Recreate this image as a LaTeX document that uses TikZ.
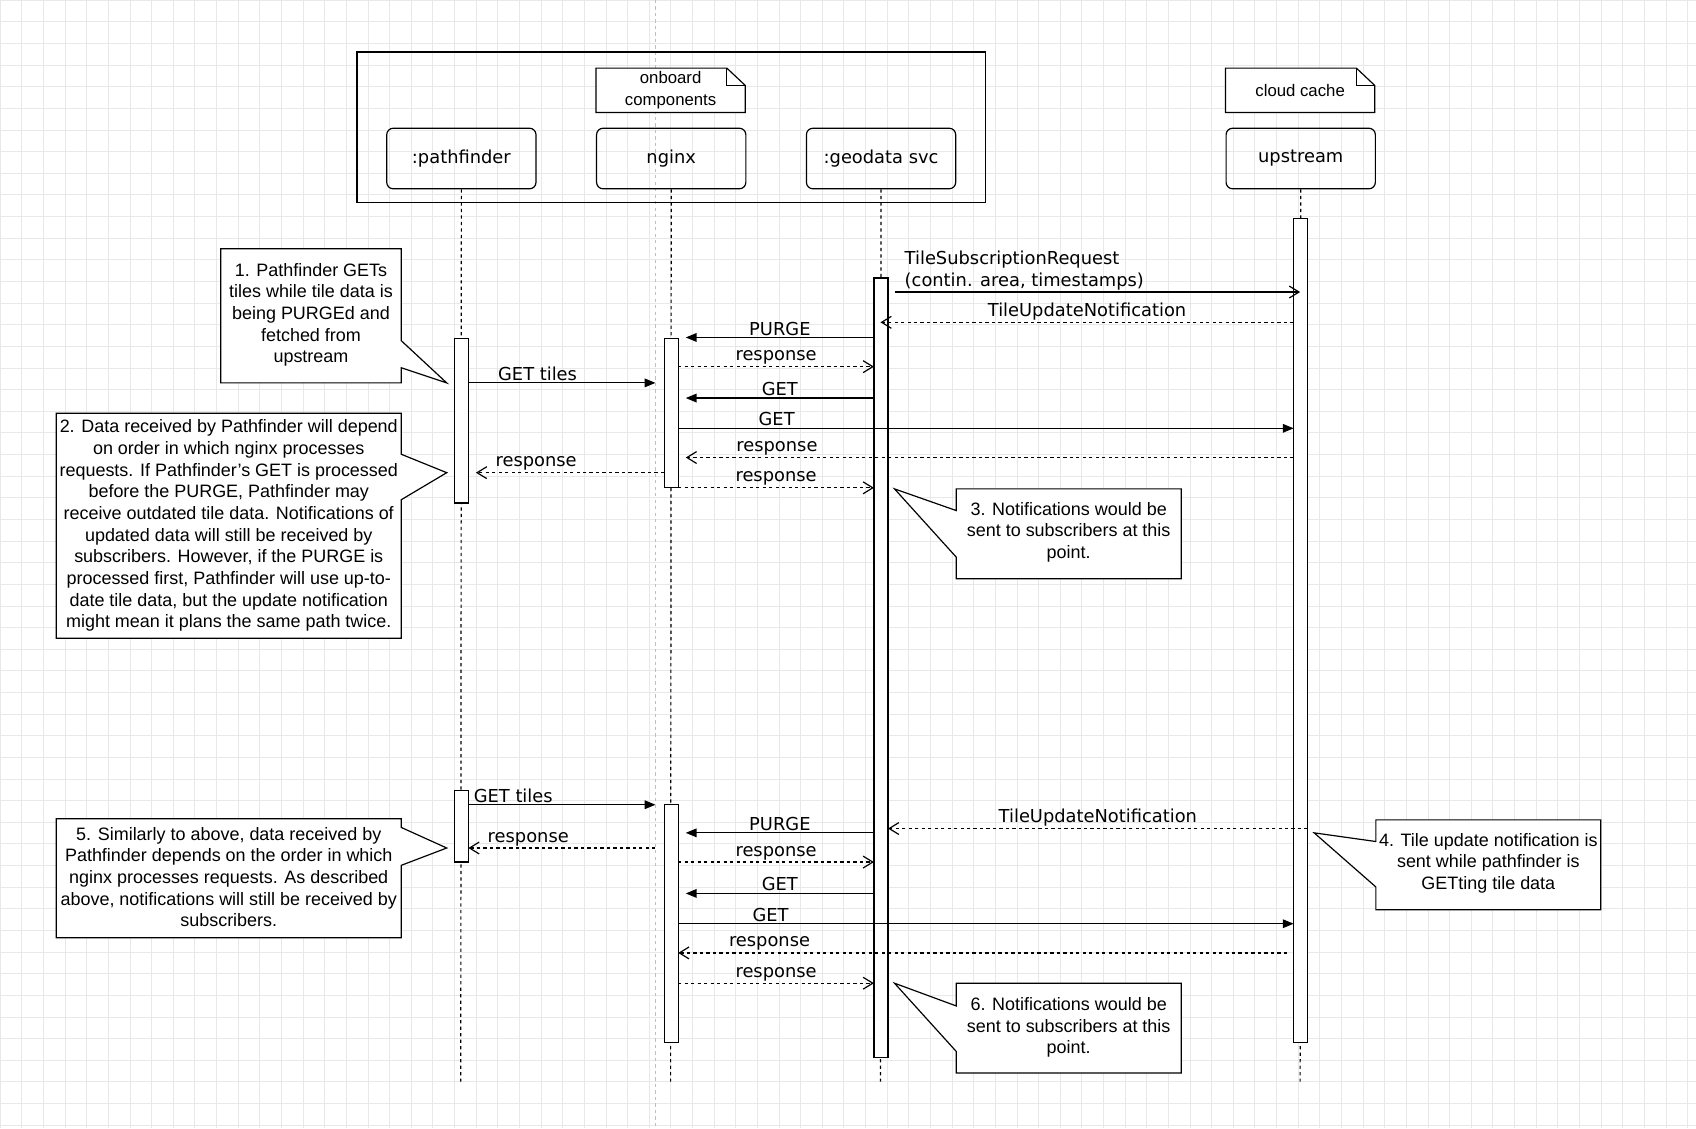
\documentclass[tikz,border=0pt]{standalone}
\usepackage{fontspec}
\setmainfont{Liberation Sans}
\newfontfamily\msgfont{DejaVu Sans}
\usetikzlibrary{arrows.meta}
\begin{document}
\begin{tikzpicture}[x=1pt,y=-1pt,
 txt/.style={font=\msgfont\fontsize{16.5}{20}\selectfont},
 nt/.style={font=\fontsize{16.6}{20}\selectfont},
 head/.style={draw,line width=1.1pt,rounded corners=6pt,minimum width=138pt,minimum height=56pt,txt,anchor=north west},
 act/.style={draw,fill=white,line width=1.1pt},
 life/.style={dashed,line width=1.1pt},
 sync/.style={line width=1.1pt,-{Triangle[length=10pt,width=8pt]}},
 asyn/.style={line width=1.1pt,-{Straight Barb[length=9pt,width=11pt]}},
 ret/.style={line width=1.1pt,dashed,-{Straight Barb[length=9pt,width=11pt]}},
 lab/.style={txt,inner sep=1.5pt,anchor=south},
 note/.style={nt,align=center},
 cal/.style={line width=1.1pt,fill=white}]
\useasboundingbox (0,0) rectangle (1568,1043);
\fill[white] (0,0) rectangle (1568,1043);
\foreach \i in {0,20,...,1560} \draw[black!9] (\i,0) -- (\i,1043);
\foreach \i in {0,20,...,1040} \draw[black!9] (0,\i) -- (1568,\i);
\draw[black!25,dashed] (606,0) -- (606,1043);
% frame
\draw[line width=1.1pt] (330,48) rectangle (911,187);
\foreach \n/\x/\t in {oc/551/{onboard\\components},cc/1133/{cloud cache}}{
 \draw[line width=1.1pt,fill=white] (\x,63) -- (\x+121,63) -- (\x+138,79) -- (\x+138,104) -- (\x,104) -- cycle;
 \draw[line width=1.1pt] (\x+121,63) -- (\x+121,79) -- (\x+138,79);
 \node[note,font=\fontsize{15.5}{20}\selectfont] (\n) at (\x+69,83.5) {\t};}
\node[head] (pf) at (357,118) {:pathfinder};
\node[head] (ng) at (551,118) {nginx};
\node[head] (gd) at (745,118) {:geodata svc};
\node[head] (up) at (1133,118) {upstream};
\coordinate (pfe) at (426,1000); \coordinate (nge) at (620,1000);
\coordinate (gde) at (814,1000); \coordinate (upe) at (1202,1000);
\draw[life] (pf.south) -- (pfe); \draw[life] (ng.south) -- (nge);
\draw[life] (gd.south) -- (gde); \draw[life] (up.south) -- (upe);
% activations
\draw[act] (1196,202) rectangle (1209,964);
\draw[act] (808,257) rectangle (821,978);
\draw[act] (420,313) rectangle (433,465);
\draw[act] (614,313) rectangle (627,451);
\draw[act] (420,731) rectangle (433,797);
\draw[act] (614,744) rectangle (627,964);
% messages block 1
\draw[asyn] (827,270) -- node[lab,align=left,anchor=south,pos=0.32]{TileSubscriptionRequest\\(contin. area, timestamps)} (1202,270);
\draw[ret] (1196,298) -- node[lab,pos=0.5]{TileUpdateNotification} (814,298);
\draw[sync] (808,312) -- node[lab]{PURGE} (634,312);
\draw[ret] (627,339) -- node[lab]{response} (808,339);
\draw[sync] (433,354) -- node[lab,pos=0.37]{GET tiles} (606,354);
\draw[sync] (808,368) -- node[lab]{GET} (634,368);
\draw[sync] (627,396) -- node[lab,pos=0.16]{GET} (1196,396);
\draw[ret] (1196,423) -- node[lab,pos=0.85]{response} (634,423);
\draw[ret] (614,437) -- node[lab,pos=0.68]{response} (440,437);
\draw[ret] (627,451) -- node[lab]{response} (808,451);
% block 2
\draw[sync] (433,744) -- node[lab,pos=0.24]{GET tiles} (606,744);
\draw[ret] (1209,766) -- node[lab]{TileUpdateNotification} (821,766);
\draw[sync] (808,770) -- node[lab]{PURGE} (634,770);
\draw[ret] (606,784) -- node[lab,pos=0.68]{response} (433,784);
\draw[ret] (627,797) -- node[lab]{response} (808,797);
\draw[sync] (808,826) -- node[lab]{GET} (634,826);
\draw[sync] (627,854) -- node[lab,pos=0.15]{GET} (1196,854);
\draw[ret] (1190,881) -- node[lab,pos=0.85]{response} (627,881);
\draw[ret] (627,909) -- node[lab]{response} (808,909);
% callouts
\draw[cal] (204,230) -- (371,230) -- (371,315) -- (413,354) -- (371,340) -- (371,354) -- (204,354) -- cycle;
\node[note] (n1) at (287.5,291) {1. Pathfinder GETs\\tiles while tile data is\\being PURGEd and\\fetched from\\upstream};
\draw[cal] (52,382) -- (371,382) -- (371,420) -- (413,437) -- (371,462) -- (371,590) -- (52,590) -- cycle;
\node[note] (n2) at (211.5,486) {2. Data received by Pathfinder will depend\\on order in which nginx processes\\requests. If Pathfinder's GET is processed\\before the PURGE, Pathfinder may\\receive outdated tile data. Notifications of\\updated data will still be received by\\subscribers. However, if the PURGE is\\processed first, Pathfinder will use up-to-\\date tile data, but the update notification\\might mean it plans the same path twice.};
\draw[cal] (884,452) -- (1092,452) -- (1092,535) -- (884,535) -- (884,515) -- (827,452) -- (884,472) -- cycle;
\node[note] (n3) at (988,492) {3. Notifications would be\\sent to subscribers at this\\point.};
\draw[cal] (52,757) -- (371,757) -- (371,765) -- (413,784) -- (371,800) -- (371,867) -- (52,867) -- cycle;
\node[note] (n5) at (211.5,811) {5. Similarly to above, data received by\\Pathfinder depends on the order in which\\nginx processes requests. As described\\above, notifications will still be received by\\subscribers.};
\draw[cal] (1272,758) -- (1480,758) -- (1480,841) -- (1272,841) -- (1272,820) -- (1215,770) -- (1272,778) -- cycle;
\node[note] (n4) at (1376,798) {4. Tile update notification is\\sent while pathfinder is\\GETting tile data};
\draw[cal] (884,909) -- (1092,909) -- (1092,992) -- (884,992) -- (884,972) -- (827,909) -- (884,930) -- cycle;
\node[note] (n6) at (988,950) {6. Notifications would be\\sent to subscribers at this\\point.};
\end{tikzpicture}
\end{document}
